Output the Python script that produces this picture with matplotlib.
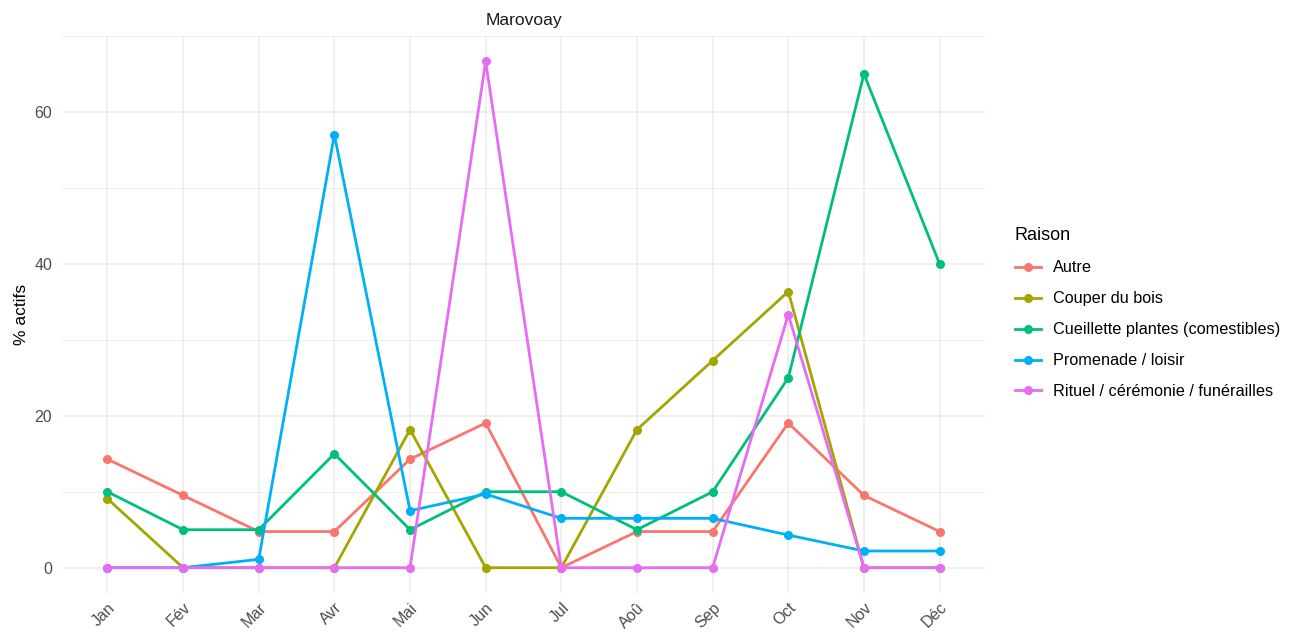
import matplotlib
matplotlib.use("Agg")
import matplotlib.pyplot as plt
from matplotlib.lines import Line2D

plt.rcParams["font.family"] = ["Liberation Sans", "DejaVu Sans"]

months = ["Jan", "Fév", "Mar", "Avr", "Mai", "Jun", "Jul", "Aoû", "Sep", "Oct", "Nov", "Déc"]

autre = [14.29, 9.52, 4.76, 4.76, 14.29, 19.05, 0, 4.76, 4.76, 19.05, 9.52, 4.76]
couper_bois = [9.09, 0, 0, 0, 18.18, 0, 0, 18.18, 27.27, 36.36, 0, 0]
cueillette = [10, 5, 5, 15, 5, 10, 10, 5, 10, 25, 65, 40]
promenade = [0, 0, 1.1, 57.0, 7.5, 9.7, 6.5, 6.5, 6.5, 4.3, 2.2, 2.2]
rituel = [0, 0, 0, 0, 0, 66.67, 0, 0, 0, 33.33, 0, 0]

series_names = ["Autre", "Couper du bois", "Cueillette plantes (comestibles)",
                "Promenade / loisir", "Rituel / cérémonie / funérailles"]
series_values = [autre, couper_bois, cueillette, promenade, rituel]
colors = ["#F8766D", "#A3A500", "#00BF7D", "#00B0F6", "#E76BF3"]

W, H = 1293, 632
fig = plt.figure(figsize=(W / 100, H / 100), dpi=100)
left, right, top, bottom = 62, 985, 36, 593
ax = fig.add_axes([left / W, 1 - bottom / H, (right - left) / W, (bottom - top) / H])

x = list(range(len(months)))
for name, vals, c in zip(series_names, series_values, colors):
    ax.plot(x, vals, color=c, lw=2.0, marker="o", ms=5.5, label=name, zorder=3)

ax.set_xlim(-0.6, 11.6)
ax.set_ylim(-3.33, 70)
ax.set_yticks([0, 20, 40, 60])
ax.set_yticks([10, 30, 50, 70], minor=True)
ax.set_xticks(x)
ax.set_xticklabels(months, rotation=45, ha="right", va="top", rotation_mode="anchor")
ax.tick_params(axis="both", length=0, labelsize=11.5, labelcolor="#4D4D4D", pad=7)
ax.tick_params(axis="x", pad=5)
ax.tick_params(axis="y", which="minor", length=0)
ax.grid(True, which="major", color="#EBEBEB", lw=1.1)
ax.grid(True, which="minor", axis="y", color="#EBEBEB", lw=0.6)
ax.set_axisbelow(True)
for s in ax.spines.values():
    s.set_visible(False)
ax.set_ylabel("% actifs", fontsize=12.5, color="black", labelpad=4)
ax.set_title("Marovoay", fontsize=12.5, color="#1A1A1A", pad=8)

handles = [Line2D([0], [0], color=c, lw=2.0, marker="o", ms=5.5) for c in colors]
leg = fig.legend(handles, series_names, title="Raison", loc="upper left",
                 bbox_to_anchor=(1008 / W, 1 - 221 / H), frameon=False,
                 fontsize=11.7, title_fontsize=13, handlelength=1.6,
                 labelspacing=0.98, handletextpad=0.75, borderaxespad=0)
leg._legend_box.align = "left"

fig.savefig("out.png", dpi=100, facecolor="white")
